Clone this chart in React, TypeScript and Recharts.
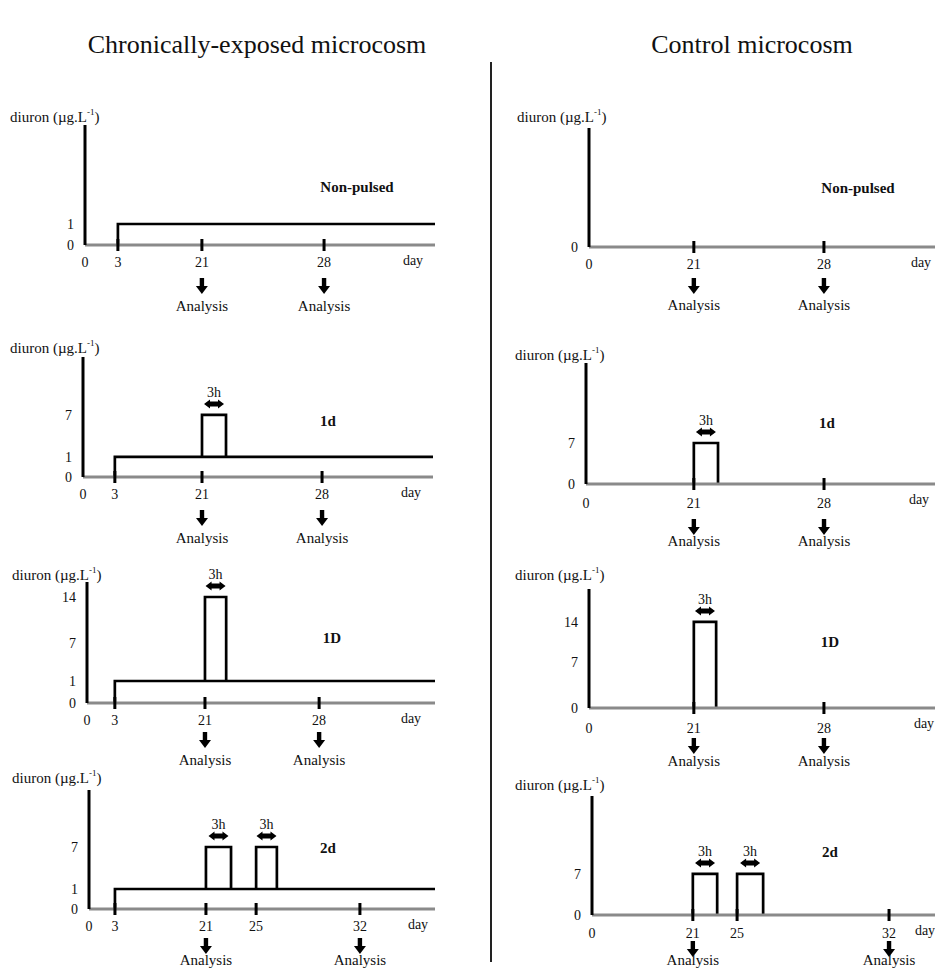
import React from 'react';
import { LineChart, Line, XAxis, YAxis, ReferenceDot } from 'recharts';

const FONT = '"Liberation Serif", "Times New Roman", serif';

type Pt = { day: number; c: number | null };
type Pulse = { start: number; end: number; level: number };

// ---- tick labels (days) ----
const ticksChronic = [0, 3, 21, 28];
const ticksChronic2d = [0, 3, 21, 25, 32];
const ticksControl = [0, 21, 28];
const ticksControl2d = [0, 21, 25, 32];
const analysisDays = [21, 28];
const analysisDays2d = [21, 32];

// ---- concentration tick labels (µg/L) ----
const yTicksChronicNP = [0, 1];
const yTicksChronic1d = [0, 1, 7];
const yTicksChronic1D = [0, 1, 7, 14];
const yTicksChronic2d = [0, 1, 7];
const yTicksControlNP = [0];
const yTicksControl1d = [0, 7];
const yTicksControl1D = [0, 7, 14];
const yTicksControl2d = [0, 7];

// ---- exposure profiles (day, diuron µg/L) ----
const chronicNonPulsed: Pt[] = [
  { day: 3, c: 0 }, { day: 3, c: 1 }, { day: 36, c: 1 },
];
const chronic1d: Pt[] = [
  { day: 3, c: 0 }, { day: 3, c: 1 }, { day: 21, c: 1 }, { day: 21, c: 7 },
  { day: 22.4, c: 7 }, { day: 22.4, c: 1 }, { day: 21, c: 1 }, { day: 36, c: 1 },
];
const chronic1D: Pt[] = [
  { day: 3, c: 0 }, { day: 3, c: 1 }, { day: 21, c: 1 }, { day: 21, c: 14 },
  { day: 22.3, c: 14 }, { day: 22.3, c: 1 }, { day: 21, c: 1 }, { day: 36, c: 1 },
];
const chronic2d: Pt[] = [
  { day: 3, c: 0 }, { day: 3, c: 1 }, { day: 21, c: 1 }, { day: 21, c: 7 },
  { day: 23, c: 7 }, { day: 23, c: 1 }, { day: 21, c: 1 }, { day: 25, c: 1 }, { day: 25, c: 7 },
  { day: 26.4, c: 7 }, { day: 26.4, c: 1 }, { day: 25, c: 1 }, { day: 40, c: 1 },
];
const controlNonPulsed: Pt[] = [];
const control1d: Pt[] = [
  { day: 21, c: 0 }, { day: 21, c: 7 }, { day: 22.3, c: 7 }, { day: 22.3, c: 0 },
];
const control1D: Pt[] = [
  { day: 21, c: 0 }, { day: 21, c: 14 }, { day: 22.2, c: 14 }, { day: 22.2, c: 0 },
];
const control2d: Pt[] = [
  { day: 21, c: 0 }, { day: 21, c: 7 }, { day: 23.2, c: 7 }, { day: 23.2, c: 0 },
  { day: 24, c: null },
  { day: 25, c: 0 }, { day: 25, c: 7 }, { day: 26.2, c: 7 }, { day: 26.2, c: 0 },
];

// ---- 3 h pulses ----
const pulses1d: Pulse[] = [{ start: 21, end: 22.4, level: 7 }];
const pulses1D: Pulse[] = [{ start: 21, end: 22.3, level: 14 }];
const pulses2d: Pulse[] = [{ start: 21, end: 23, level: 7 }, { start: 25, end: 26.4, level: 7 }];
const pulsesC1d: Pulse[] = [{ start: 21, end: 22.3, level: 7 }];
const pulsesC1D: Pulse[] = [{ start: 21, end: 22.2, level: 14 }];
const pulsesC2d: Pulse[] = [{ start: 21, end: 23.2, level: 7 }, { start: 25, end: 26.2, level: 7 }];

// piecewise-linear (schematic, not to scale) axis scale usable by recharts
function piecewise(knots: [number, number][], tickVals: number[]): any {
  let dom: number[] = [knots[0][0], knots[knots.length - 1][0]];
  let rng: number[] = [0, 1];
  const frac = (v: number) => {
    for (let i = 0; i < knots.length - 1; i++) {
      const [a, fa] = knots[i];
      const [b, fb] = knots[i + 1];
      if (v <= b || i === knots.length - 2) return fa + ((v - a) / (b - a)) * (fb - fa);
    }
    return 0;
  };
  const s: any = (v: number) => rng[0] + frac(Number(v)) * (rng[1] - rng[0]);
  s.domain = (d?: number[]) => {
    if (d === undefined) return dom.slice();
    dom = d.slice();
    return s;
  };
  s.range = (r?: number[]) => {
    if (r === undefined) return rng.slice();
    rng = r.slice();
    return s;
  };
  s.rangeRound = (r: number[]) => s.range(r);
  s.copy = () => piecewise(knots, tickVals).domain(dom).range(rng);
  s.ticks = () => tickVals.slice();
  s.tickFormat = () => (v: any) => String(v);
  s.clamp = () => s;
  s.nice = () => s;
  s.invert = (px: number) => {
    const f = (px - rng[0]) / (rng[1] - rng[0]);
    for (let i = 0; i < knots.length - 1; i++) {
      const [a, fa] = knots[i];
      const [b, fb] = knots[i + 1];
      if (f <= fb || i === knots.length - 2) return a + ((f - fa) / (fb - fa)) * (b - a);
    }
    return 0;
  };
  return s;
}

type Panel = {
  chartLeft: number; axisX: number; right: number; top: number; base: number;
  xMax: number; yMax: number;
  xKnots: [number, number][]; yKnots: [number, number][];
  xTicks: number[]; yTicks: number[]; analysis: number[];
  series: Pt[]; pulses: Pulse[];
  name: string; nameX: number; nameY: number;
  labelX: number; labelY: number; dayX: number;
  tickDy: number; arrowDy: number; analysisDy: number;
};

const panels: Panel[] = [
  {
    chartLeft: 0, axisX: 85, right: 435, top: 125, base: 245, xMax: 36, yMax: 16,
    xKnots: [[0, 0], [3, 0.094], [21, 0.334], [28, 0.683], [36, 1]],
    yKnots: [[0, 0], [1, 0.175], [16, 1]],
    xTicks: ticksChronic, yTicks: yTicksChronicNP, analysis: analysisDays,
    series: chronicNonPulsed, pulses: [],
    name: 'Non-pulsed', nameX: 357, nameY: 187, labelX: 10, labelY: 117, dayX: 413,
    tickDy: 17, arrowDy: 33, analysisDy: 61,
  },
  {
    chartLeft: 0, axisX: 83, right: 433, top: 357, base: 477, xMax: 36, yMax: 16,
    xKnots: [[0, 0], [3, 0.091], [21, 0.34], [28, 0.683], [36, 1]],
    yKnots: [[0, 0], [1, 0.167], [7, 0.517], [16, 1]],
    xTicks: ticksChronic, yTicks: yTicksChronic1d, analysis: analysisDays,
    series: chronic1d, pulses: pulses1d,
    name: '1d', nameX: 328, nameY: 421, labelX: 10, labelY: 348, dayX: 411,
    tickDy: 17, arrowDy: 33, analysisDy: 61,
  },
  {
    chartLeft: 0, axisX: 87, right: 435, top: 582, base: 703, xMax: 36, yMax: 16,
    xKnots: [[0, 0], [3, 0.08], [21, 0.339], [28, 0.667], [36, 1]],
    yKnots: [[0, 0], [1, 0.182], [7, 0.496], [14, 0.876], [16, 1]],
    xTicks: ticksChronic, yTicks: yTicksChronic1D, analysis: analysisDays,
    series: chronic1D, pulses: pulses1D,
    name: '1D', nameX: 332, nameY: 638, labelX: 12, labelY: 575, dayX: 411,
    tickDy: 17, arrowDy: 29, analysisDy: 57,
  },
  {
    chartLeft: 0, axisX: 89, right: 435, top: 790, base: 909, xMax: 40, yMax: 16,
    xKnots: [[0, 0], [3, 0.075], [21, 0.338], [25, 0.483], [32, 0.783], [40, 1]],
    yKnots: [[0, 0], [1, 0.168], [7, 0.521], [16, 1]],
    xTicks: ticksChronic2d, yTicks: yTicksChronic2d, analysis: analysisDays2d,
    series: chronic2d, pulses: pulses2d,
    name: '2d', nameX: 328, nameY: 848, labelX: 12, labelY: 778, dayX: 418,
    tickDy: 17, arrowDy: 29, analysisDy: 51,
  },
  {
    chartLeft: 495, axisX: 589, right: 935, top: 128, base: 247, xMax: 36, yMax: 16,
    xKnots: [[0, 0], [21, 0.303], [28, 0.679], [36, 1]],
    yKnots: [[0, 0], [16, 1]],
    xTicks: ticksControl, yTicks: yTicksControlNP, analysis: analysisDays,
    series: controlNonPulsed, pulses: [],
    name: 'Non-pulsed', nameX: 858, nameY: 188, labelX: 517, labelY: 117, dayX: 921,
    tickDy: 17, arrowDy: 31, analysisDy: 58,
  },
  {
    chartLeft: 495, axisX: 586, right: 935, top: 363, base: 484, xMax: 36, yMax: 16,
    xKnots: [[0, 0], [21, 0.309], [28, 0.682], [36, 1]],
    yKnots: [[0, 0], [7, 0.339], [16, 1]],
    xTicks: ticksControl, yTicks: yTicksControl1d, analysis: analysisDays,
    series: control1d, pulses: pulsesC1d,
    name: '1d', nameX: 827, nameY: 423, labelX: 515, labelY: 355, dayX: 919,
    tickDy: 19, arrowDy: 35, analysisDy: 57,
  },
  {
    chartLeft: 495, axisX: 589, right: 935, top: 589, base: 708, xMax: 36, yMax: 16,
    xKnots: [[0, 0], [21, 0.303], [28, 0.679], [36, 1]],
    yKnots: [[0, 0], [7, 0.387], [14, 0.723], [16, 1]],
    xTicks: ticksControl, yTicks: yTicksControl1D, analysis: analysisDays,
    series: control1D, pulses: pulsesC1D,
    name: '1D', nameX: 830, nameY: 642, labelX: 515, labelY: 575, dayX: 924,
    tickDy: 20, arrowDy: 30, analysisDy: 53,
  },
  {
    chartLeft: 495, axisX: 592, right: 935, top: 796, base: 915, xMax: 40, yMax: 16,
    xKnots: [[0, 0], [21, 0.294], [25, 0.423], [32, 0.866], [40, 1]],
    yKnots: [[0, 0], [7, 0.345], [16, 1]],
    xTicks: ticksControl2d, yTicks: yTicksControl2d, analysis: analysisDays2d,
    series: control2d, pulses: pulsesC2d,
    name: '2d', nameX: 830, nameY: 852, labelX: 515, labelY: 785, dayX: 925,
    tickDy: 18, arrowDy: 26, analysisDy: 45,
  },
];

const makeXTick = (p: Panel) => (props: any) => {
  const { x, y, payload } = props;
  const v = payload.value;
  const a = y + p.arrowDy;
  return (
    <g>
      {v !== 0 && <rect x={x - 1.5} y={y - 6} width={3} height={12} fill="#000" />}
      <text x={x} y={y + p.tickDy + 5} textAnchor="middle" fontSize={14} fontFamily={FONT} fill="#111">
        {v}
      </text>
      {p.analysis.includes(v) && (
        <g>
          <rect x={x - 2.2} y={a} width={4.4} height={9} fill="#000" />
          <path d={`M${x - 6},${a + 8} L${x + 6},${a + 8} L${x},${a + 16} Z`} fill="#000" />
          <text x={x} y={y + p.analysisDy + 5} textAnchor="middle" fontSize={15} fontFamily={FONT} fill="#111">
            Analysis
          </text>
        </g>
      )}
    </g>
  );
};

const PulseMark = (props: any) => {
  const { cx, cy } = props;
  const ay = cy - 11;
  const d = `M${cx - 10},${ay} L${cx - 4},${ay - 4.5} L${cx - 4},${ay - 2.5} L${cx + 4},${ay - 2.5} L${cx + 4},${ay - 4.5} L${cx + 10},${ay} L${cx + 4},${ay + 4.5} L${cx + 4},${ay + 2.5} L${cx - 4},${ay + 2.5} L${cx - 4},${ay + 4.5} Z`;
  return (
    <g>
      <path d={d} fill="#000" />
      <text x={cx} y={cy - 18} textAnchor="middle" fontSize={14} fontFamily={FONT} fill="#111">
        3h
      </text>
    </g>
  );
};

const PAD = 30;

function PanelChart({ p }: { p: Panel }) {
  const xScale = piecewise(p.xKnots, p.xTicks);
  const yScale = piecewise(p.yKnots, p.yTicks);
  const width = p.right - p.chartLeft;
  const height = PAD + (p.base - p.top) + 80;
  return (
    <div style={{ position: 'absolute', left: p.chartLeft, top: p.top - PAD }}>
      <LineChart
        width={width}
        height={height}
        data={p.series}
        margin={{ top: PAD, right: 0, bottom: 0, left: p.axisX - p.chartLeft - 40 }}
      >
        <XAxis
          dataKey="day"
          type="number"
          scale={xScale}
          domain={[0, p.xMax]}
          allowDataOverflow
          ticks={p.xTicks}
          interval={0}
          tickSize={0}
          tickMargin={0}
          tickLine={false}
          axisLine={{ stroke: '#8a8a8a', strokeWidth: 3 }}
          height={80}
          tick={makeXTick(p)}
        />
        <YAxis
          type="number"
          scale={yScale}
          domain={[0, p.yMax]}
          allowDataOverflow
          ticks={p.yTicks}
          interval={0}
          width={40}
          tickSize={0}
          tickMargin={11}
          tickLine={false}
          axisLine={{ stroke: '#000', strokeWidth: 3 }}
          tick={{ fontSize: 14, fontFamily: FONT, fill: '#111' }}
        />
        <Line
          dataKey="c"
          type="linear"
          stroke="#000"
          strokeWidth={2.7}
          dot={false}
          activeDot={false}
          connectNulls={false}
          isAnimationActive={false}
        />
        {p.pulses.map((pu, i) => (
          <ReferenceDot
            key={i}
            x={(pu.start + pu.end) / 2}
            y={pu.level}
            r={0}
            ifOverflow="visible"
            shape={PulseMark}
          />
        ))}
      </LineChart>
    </div>
  );
}

const textStyle: React.CSSProperties = {
  position: 'absolute',
  fontFamily: FONT,
  color: '#111',
  whiteSpace: 'nowrap',
  lineHeight: 1,
};

export default function App() {
  return (
    <div
      style={{
        position: 'absolute',
        left: 0,
        top: 0,
        width: 935,
        height: 970,
        overflow: 'hidden',
        background: '#fff',
        fontFamily: FONT,
      }}
    >
      <div style={{ ...textStyle, fontSize: 26, left: 257, top: 45, transform: 'translate(-50%, -50%)' }}>
        Chronically-exposed microcosm
      </div>
      <div style={{ ...textStyle, fontSize: 26, left: 752, top: 45, transform: 'translate(-50%, -50%)' }}>
        Control microcosm
      </div>
      <div style={{ position: 'absolute', left: 490, top: 62, width: 2, height: 900, background: '#222' }} />
      {panels.map((p, i) => (
        <React.Fragment key={i}>
          <PanelChart p={p} />
          <div style={{ ...textStyle, fontSize: 15, left: p.labelX, top: p.labelY, transform: 'translateY(-50%)' }}>
            diuron (µg.L<sup style={{ fontSize: 9, verticalAlign: 'top', position: 'relative', top: -2 }}>-1</sup>)
          </div>
          <div
            style={{
              ...textStyle,
              fontSize: 15,
              fontWeight: 'bold',
              left: p.nameX,
              top: p.nameY,
              transform: 'translate(-50%, -50%)',
            }}
          >
            {p.name}
          </div>
          <div style={{ ...textStyle, fontSize: 14, left: p.dayX, top: p.base + 16, transform: 'translate(-50%, -50%)' }}>
            day
          </div>
        </React.Fragment>
      ))}
    </div>
  );
}
